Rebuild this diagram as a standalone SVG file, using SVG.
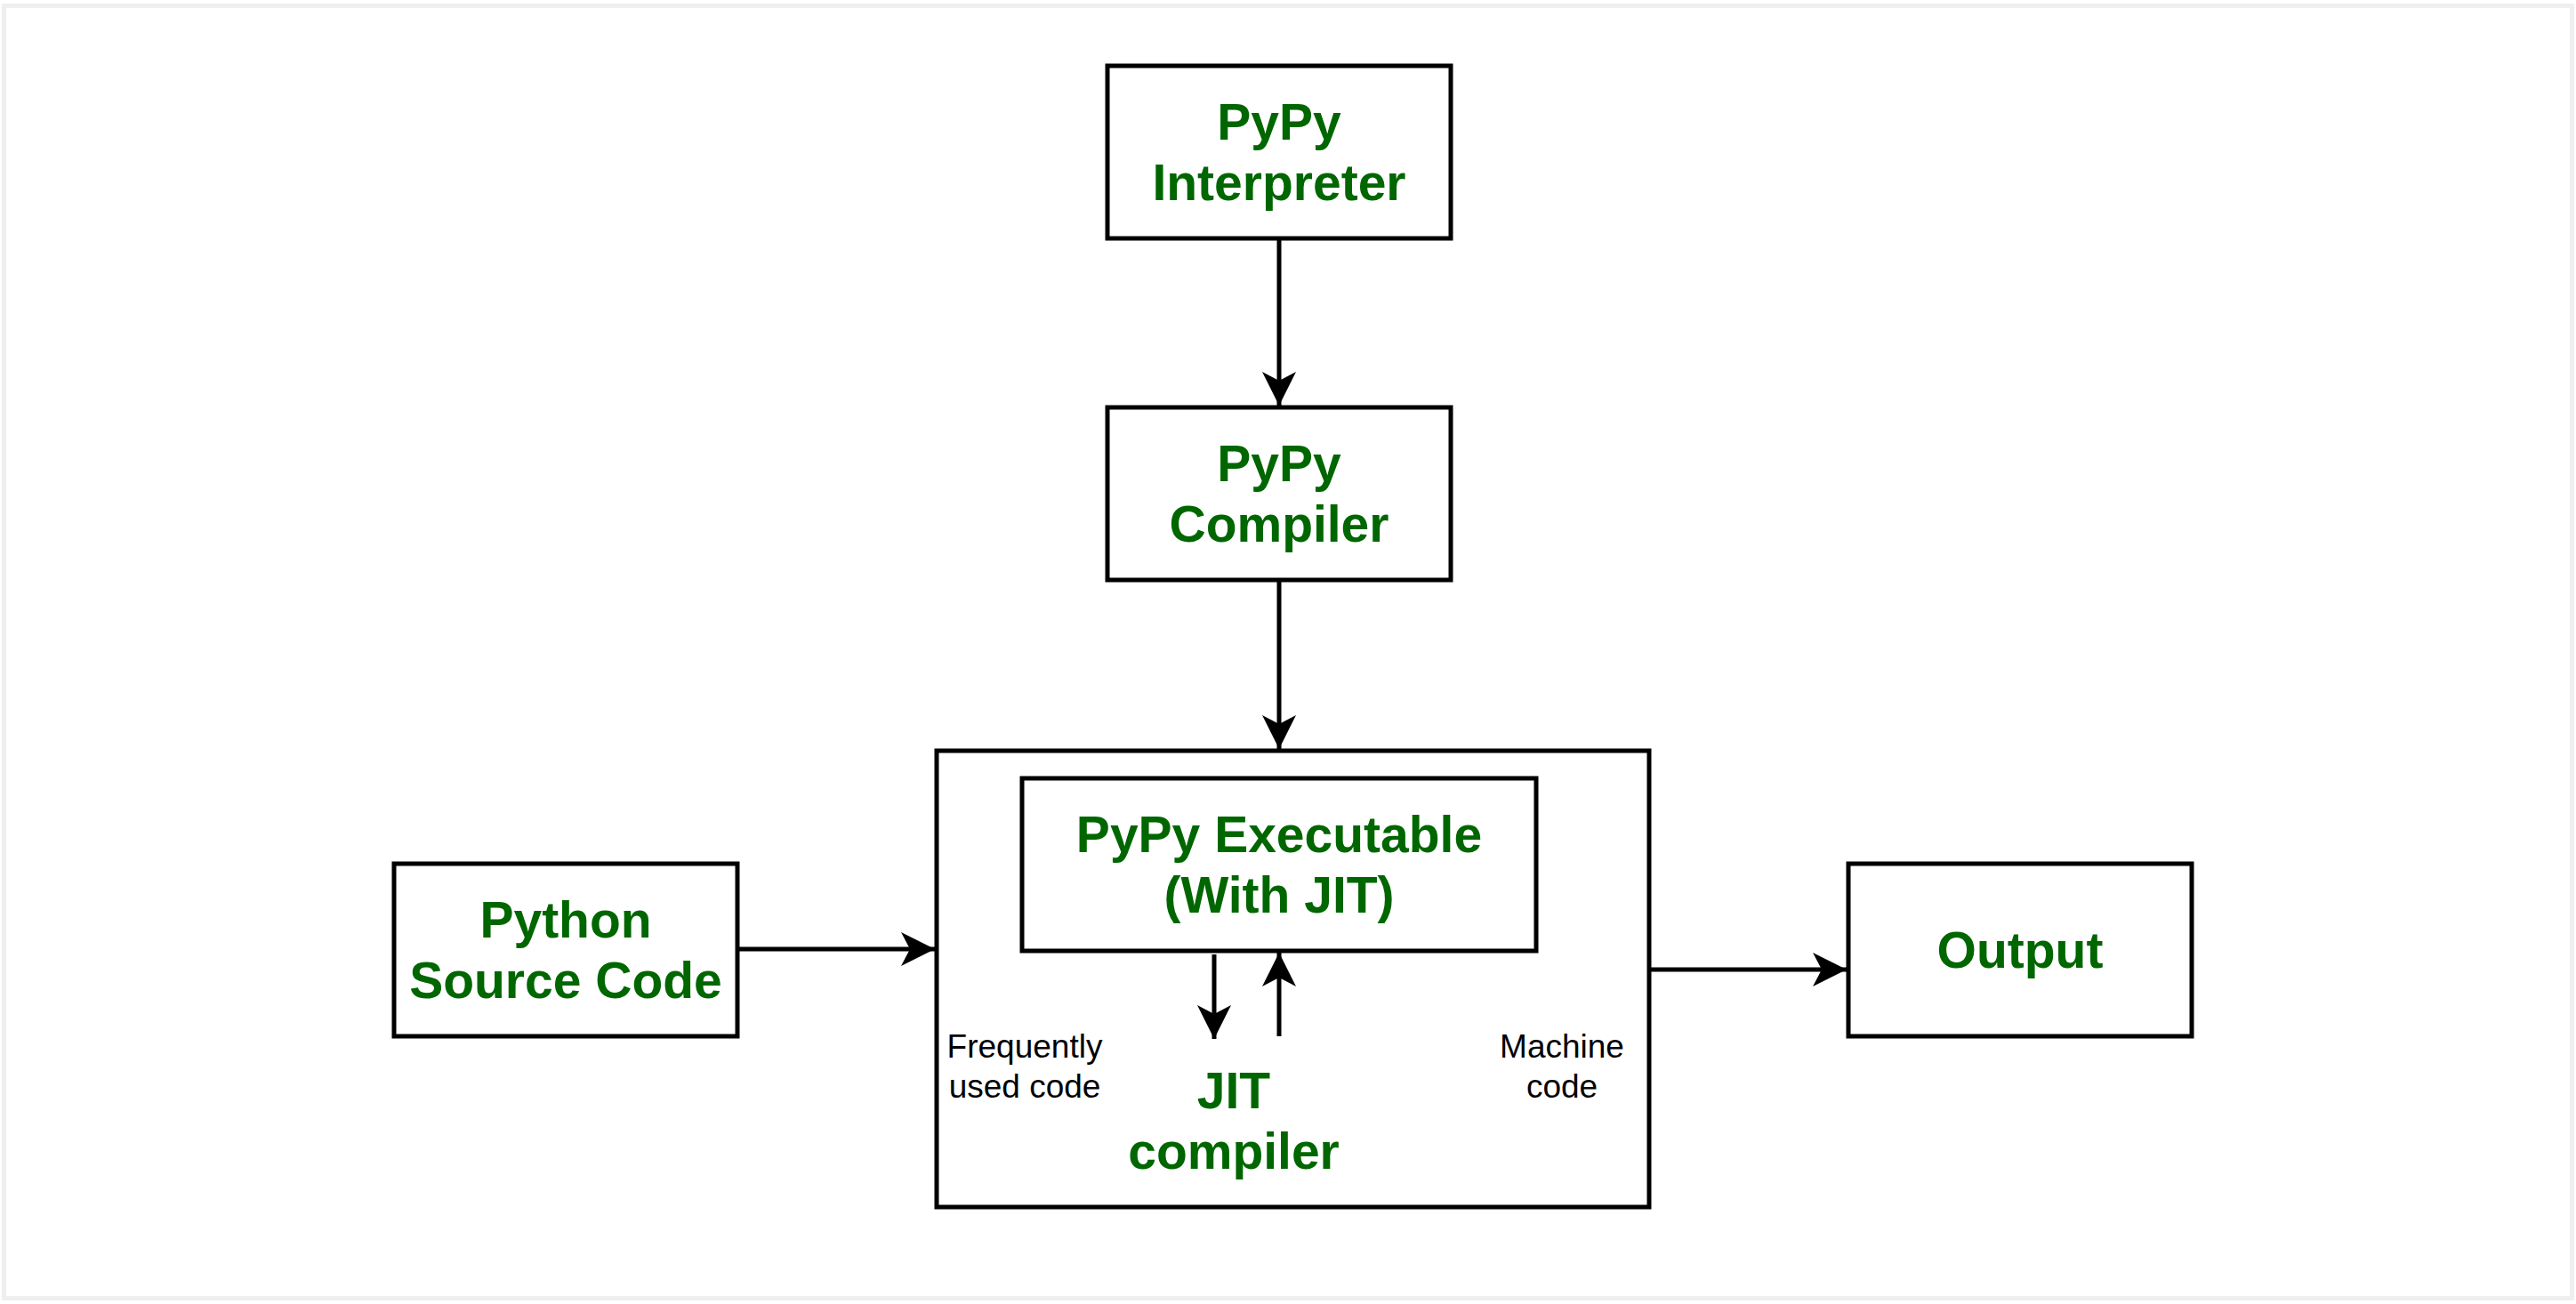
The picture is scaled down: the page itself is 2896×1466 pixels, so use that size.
<svg xmlns="http://www.w3.org/2000/svg" width="2896" height="1466" viewBox="0 0 2896 1466">
<style>
.box{fill:#ffffff;stroke:#000000;stroke-width:5}
.lbl{font-family:"Liberation Sans",Arial,sans-serif;font-weight:bold;font-size:57px;fill:#006600;text-anchor:middle}
.note{font-family:"Liberation Sans",Arial,sans-serif;font-size:37px;fill:#000000;text-anchor:middle}
.edge{fill:none;stroke:#000000;stroke-width:5}
</style>
<defs>
<marker id="arr" markerUnits="userSpaceOnUse" markerWidth="44" markerHeight="44" viewBox="-40 -22 44 44" refX="0" refY="0" orient="auto">
<path d="M0,0 L-38,-19 L-28,0 L-38,19 Z" fill="#000000"/>
</marker>
</defs>
<rect x="0" y="0" width="2896" height="1466" fill="#ffffff"/>
<rect x="4.5" y="6.5" width="2887" height="1453" fill="none" stroke="#efefef" stroke-width="5"/>
<g id="interpreter">
<rect class="box" x="1245" y="74" width="386" height="194"/>
<text class="lbl" x="1438" y="157">PyPy</text>
<text class="lbl" x="1438" y="225">Interpreter</text>
</g>
<g id="compiler">
<rect class="box" x="1245" y="458" width="386" height="194"/>
<text class="lbl" x="1438" y="541">PyPy</text>
<text class="lbl" x="1438" y="609">Compiler</text>
</g>
<g id="runtime">
<rect class="box" x="1053" y="844" width="801" height="513"/>
<text class="note" x="1152" y="1189">Frequently</text>
<text class="note" x="1152" y="1234">used code</text>
<text class="note" x="1756" y="1189">Machine</text>
<text class="note" x="1756" y="1234">code</text>
</g>
<g id="executable">
<rect class="box" x="1149" y="875" width="578" height="194"/>
<text class="lbl" x="1438" y="958">PyPy Executable</text>
<text class="lbl" x="1438" y="1026">(With JIT)</text>
</g>
<g id="jit">
<text class="lbl" x="1387" y="1246">JIT</text>
<text class="lbl" x="1387" y="1314">compiler</text>
</g>
<g id="source">
<rect class="box" x="443" y="971" width="386" height="194"/>
<text class="lbl" x="636" y="1054">Python</text>
<text class="lbl" x="636" y="1122">Source Code</text>
</g>
<g id="output">
<rect class="box" x="2078" y="971" width="386" height="194"/>
<text class="lbl" x="2271" y="1088">Output</text>
</g>
<g id="connectors">
<line class="edge" x1="1438" y1="268" x2="1438" y2="456" marker-end="url(#arr)"/>
<line class="edge" x1="1438" y1="652" x2="1438" y2="842" marker-end="url(#arr)"/>
<line class="edge" x1="829" y1="1067" x2="1051" y2="1067" marker-end="url(#arr)"/>
<line class="edge" x1="1854" y1="1090" x2="2076" y2="1090" marker-end="url(#arr)"/>
<line class="edge" x1="1365" y1="1073" x2="1365" y2="1168" marker-end="url(#arr)"/>
<line class="edge" x1="1438" y1="1165" x2="1438" y2="1071" marker-end="url(#arr)"/>
</g>
</svg>
